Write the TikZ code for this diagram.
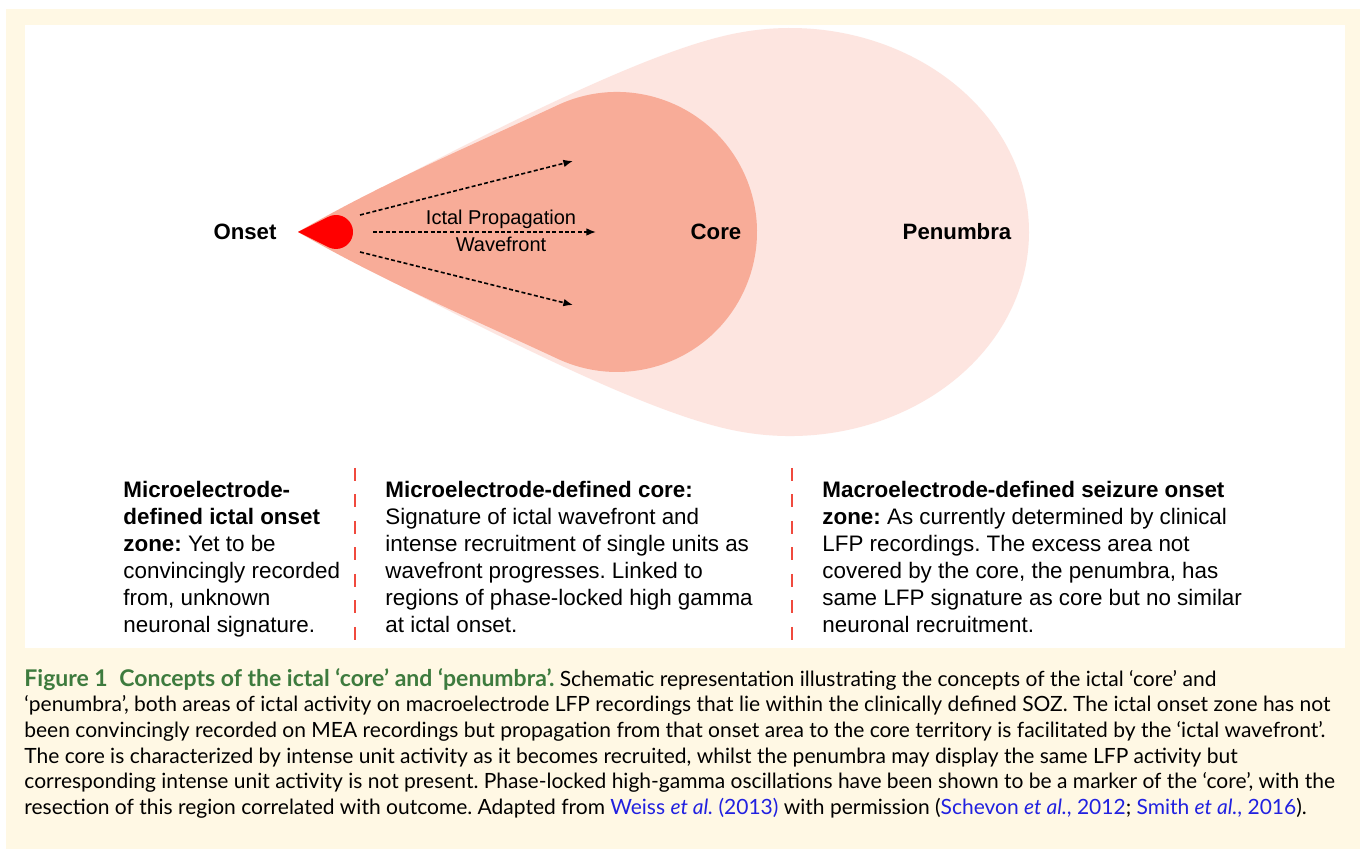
\documentclass[tikz,border=0pt]{standalone}
\usepackage{fontspec}
\setmainfont{Liberation Sans}
\newfontfamily\capfont{Lato}
\usetikzlibrary{arrows.meta}

\definecolor{cream}{HTML}{FFF8E4}
\definecolor{penumbrapink}{HTML}{FDE5E0}
\definecolor{coresalmon}{HTML}{F8AC98}
\definecolor{onsetred}{HTML}{FF0000}
\definecolor{seprule}{HTML}{F04A3E}
\definecolor{capgreen}{HTML}{3E7B3E}
\definecolor{linkblue}{HTML}{2121E0}

\tikzset{
  zone label/.style={font=\fontsize{11.1}{13}\selectfont\bfseries, inner sep=0pt, anchor=base},
  wave label/.style={font=\fontsize{10}{12}\selectfont, inner sep=0pt, anchor=base},
  wave/.style={line width=0.8pt, dash pattern=on 2pt off 1.2pt, -{Latex[length=4.8pt,width=3.8pt]}},
  separator/.style={seprule, line width=1.4pt, dash pattern=on 6.5pt off 6.75pt},
  blurb/.style={font=\frenchspacing\fontsize{11.2}{13.5}\selectfont, align=left, anchor=north west, inner sep=0pt},
  caption/.style={font=\frenchspacing\capfont\fontsize{10.5}{12.8}\selectfont, align=left, anchor=north west, inner sep=0pt}
}

\begin{document}
\begin{tikzpicture}[x=0.5pt, y=-0.5pt]
  \useasboundingbox (0,0) rectangle (1360,849);
  \fill[white] (0,0) rectangle (1360,849);
  \fill[cream] (6,9) rectangle (1360,849);
  \fill[white] (25,25) rectangle (1345,648);

  % zones
  \coordinate (tip) at (298,232);
  \fill[penumbrapink] (tip) .. controls +(220,-117) and +(-80,14) .. (740.3,32.5)
    arc[start angle=-102, end angle=102, x radius=239, y radius=204]
    .. controls +(-80,-14) and +(220,117) .. (tip) -- cycle;
  \fill[coresalmon] (tip) .. controls +(86.6,-50) and +(-90.6,42.3) .. (557.8,105.1)
    arc[start angle=-115, end angle=115, radius=140]
    .. controls +(-90.6,-42.3) and +(86.6,50) .. (tip) -- cycle;
  \fill[onsetred] (tip) -- (328.4,216.8) arc[start angle=-116.6, end angle=116.6, radius=17] -- cycle;

  \node[zone label] (onset) at (245,240) {Onset};
  \node[zone label] (core) at (716,240) {Core};
  \node[zone label] (penumbra) at (957,240) {Penumbra};

  % wavefront
  \foreach \name/\sx/\sy/\ex/\ey in {up/360/215/573/161, mid/373/232/596/232, low/360/252/573/305} {
    \coordinate (\name s) at (\sx,\sy);
    \coordinate (\name e) at (\ex,\ey);
    \draw[wave] (\name s) -- (\name e);
  };
  \node[wave label] (prop) at (501,225) {Ictal Propagation};
  \node[wave label] (wavefront) at (501,252) {Wavefront};

  % legend
  \node[blurb] (onsetzone) at (123,481) {\textbf{Microelectrode-}\\
    \textbf{defined ictal onset}\\
    \textbf{zone:} Yet to be\\
    convincingly recorded\\
    from, unknown\\
    neuronal signature.};
  \node[blurb] (corezone) at (385,481) {\textbf{Microelectrode-defined core:}\\
    Signature of ictal wavefront and\\
    intense recruitment of single units as\\
    wavefront progresses. Linked to\\
    regions of phase-locked high gamma\\
    at ictal onset.};
  \node[blurb] (soz) at (822,481) {\textbf{Macroelectrode-defined seizure onset}\\
    \textbf{zone:} As currently determined by clinical\\
    LFP recordings. The excess area not\\
    covered by the core, the penumbra, has\\
    same LFP signature as core but no similar\\
    neuronal recruitment.};
  \foreach \x/\n in {355/sepA, 792/sepB} {
    \coordinate (\n top) at (\x,468);
    \coordinate (\n bot) at (\x,641);
    \draw[separator] (\n top) -- (\n bot);
  };

  % caption
  \node[caption] (figcap) at (24,668) {{\color{capgreen}\fontsize{11.5}{12.8}\selectfont\bfseries Figure 1\enspace Concepts of the ictal ‘core’ and ‘penumbra’.} Schematic representation illustrating the concepts of the ictal ‘core’ and\\
    ‘penumbra’, both areas of ictal activity on macroelectrode LFP recordings that lie within the clinically defined SOZ. The ictal onset zone has not\\
    been convincingly recorded on MEA recordings but propagation from that onset area to the core territory is facilitated by the ‘ictal wavefront’.\\
    The core is characterized by intense unit activity as it becomes recruited, whilst the penumbra may display the same LFP activity but\\
    corresponding intense unit activity is not present. Phase-locked high-gamma oscillations have been shown to be a marker of the ‘core’, with the\\
    resection of this region correlated with outcome. Adapted from {\color{linkblue}Weiss \textit{et al.} (2013)} with permission ({\color{linkblue}Schevon \textit{et al.}, 2012}; {\color{linkblue}Smith \textit{et al.}, 2016}).};
\end{tikzpicture}
\end{document}
